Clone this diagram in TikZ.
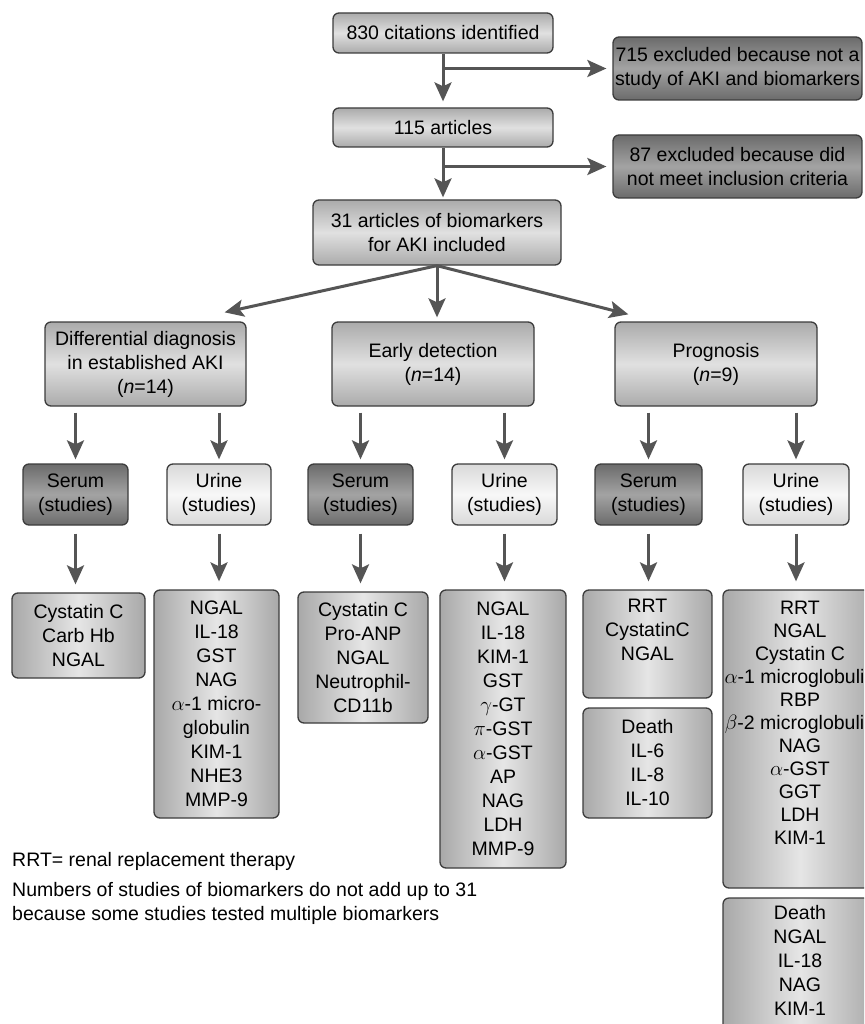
\documentclass[tikz,border=0pt]{standalone}
\usepackage{fontspec}
\setmainfont{Liberation Sans}
\usetikzlibrary{arrows.meta,positioning,calc}
\definecolor{arrowgray}{HTML}{555555}
\definecolor{edgegray}{HTML}{3C3C3C}

\begin{document}
\begin{tikzpicture}[x=1pt,y=-1pt,
	every node/.style={font=\fontsize{19.5}{24}\selectfont,align=center,inner sep=0pt},
	flow/.style={draw=edgegray,line width=1.3pt,rounded corners=6pt,
		top color=black!33,bottom color=black!33,middle color=black!12},
	dark/.style={draw=edgegray,line width=1.3pt,rounded corners=6pt,
		top color=black!58,bottom color=black!58,middle color=black!36},
	light/.style={draw=edgegray,line width=1.3pt,rounded corners=6pt,
		top color=black!15,bottom color=black!15,middle color=black!3},
	list/.style={draw=edgegray,line width=1.3pt,rounded corners=6pt,
		left color=black!34,right color=black!34,middle color=black!10},
	arr/.style={draw=arrowgray,line width=3pt,-{Stealth[length=19pt,width=17pt,inset=4pt]}}
	]
	
	% page size of the scan, right and bottom boxes run off it
	\useasboundingbox (0,0) rectangle (864,1024);
	\clip (0,0) rectangle (864,1024);
	\fill[white] (0,0) rectangle (864,1024);
	
	% selection of articles
	\node[flow,minimum width=220,minimum height=40] (c830) at (443,33) {830 citations identified};
	\node[flow,minimum width=220,minimum height=39] (a115) at (443,127.5) {115 articles};
	\node[flow,minimum width=248,minimum height=65] (a31) at (437,232.5) {31 articles of biomarkers\\for AKI included};
	\node[dark,minimum width=249,minimum height=63] (x715) at (737.5,68.5) {715 excluded because not a\\study of AKI and biomarkers};
	\node[dark,minimum width=249,minimum height=63] (x87) at (737.5,166.5) {87 excluded because did\\not meet inclusion criteria};
	
	\coordinate (b1) at (c830.south |- x715.west);
	\coordinate (b2) at (a115.south |- x87.west);
	\draw[arr,shorten >=6pt] (c830.south) -- (a115.north);
	\draw[arr,shorten >=6pt] (b1) -- (x715.west);
	\draw[arr,shorten >=2pt] (a115.south) -- (a115.south |- a31.north);
	\draw[arr,shorten >=6pt] (b2) -- (x87.west);
	
	% three questions
	\node[flow,minimum width=201,minimum height=84] (dd) at (145.5,364) {Differential diagnosis\\in established AKI\\({\itshape n}=14)};
	\node[flow,minimum width=202,minimum height=84] (ed) at (433,364) {Early detection\\({\itshape n}=14)};
	\node[flow,minimum width=202,minimum height=84] (pg) at (716,364) {Prognosis\\({\itshape n}=9)};
	
	\draw[arr] (a31.south) -- ([xshift=-22pt,yshift=9pt]dd.north east);
	\draw[arr,shorten >=4pt] (a31.south) -- (a31.south |- ed.north);
	\draw[arr] (a31.south) -- ([xshift=14pt,yshift=7pt]pg.north west);
	
	% serum / urine
	\node[dark,minimum width=105,minimum height=61] (sd) at (75.5,494.5) {Serum\\(studies)};
	\node[light,minimum width=104,minimum height=61] (ud) at (219,494.5) {Urine\\(studies)};
	\node[dark,minimum width=105,minimum height=61] (se) at (360.5,494.5) {Serum\\(studies)};
	\node[light,minimum width=105,minimum height=61] (ue) at (504.5,494.5) {Urine\\(studies)};
	\node[dark,minimum width=107,minimum height=61] (sp) at (648.5,494.5) {Serum\\(studies)};
	\node[light,minimum width=106,minimum height=61] (up) at (796,494.5) {Urine\\(studies)};
	
	\foreach \q/\t in {dd/sd,dd/ud,ed/se,ed/ue,pg/sp,pg/up}
	\draw[arr,shorten <=6pt,shorten >=4pt] (\t.north |- \q.south) -- (\t.north);
	
	% biomarkers
	\node[list,minimum width=133,minimum height=85] (ldS) at (78.5,635.5) {Cystatin C\\Carb Hb\\NGAL};
	\node[list,minimum width=125,minimum height=228] (ldU) at (216.5,704) {NGAL\\IL-18\\GST\\NAG\\$\alpha$-1 micro-\\globulin\\KIM-1\\NHE3\\MMP-9};
	\node[list,minimum width=130,minimum height=131] (leS) at (363,657.5) {Cystatin C\\Pro-ANP\\NGAL\\Neutrophil-\\CD11b};
	\node[list,minimum width=126,minimum height=278] (leU) at (503,729) {NGAL\\IL-18\\KIM-1\\GST\\$\gamma$-GT\\$\pi$-GST\\$\alpha$-GST\\AP\\NAG\\LDH\\MMP-9};
	\node[list,minimum width=129,minimum height=108] (lpS) at (647.5,644) {};
	\node[below=10pt of lpS.north] (lpSt) {RRT\\CystatinC\\NGAL};
	\node[list,minimum width=129,minimum height=110] (lpD) at (647.5,763) {Death\\IL-6\\IL-8\\IL-10};
	\node[list,minimum width=154,minimum height=298] (lpU) at (800,739) {};
	\node[below=12pt of lpU.north,font=\fontsize{19.5}{23}\selectfont] (lpUt) {RRT\\NGAL\\Cystatin C\\$\alpha$-1 microglobulin\\RBP\\$\beta$-2 microglobulin\\NAG\\$\alpha$-GST\\GGT\\LDH\\KIM-1};
	\node[list,minimum width=154,minimum height=142] (lpX) at (800,969) {};
	\node[below=8pt of lpX.north] (lpXt) {Death\\NGAL\\IL-18\\NAG\\KIM-1};
	
	\foreach \s/\t in {sd/ldS,ud/ldU,se/leS,ue/leU,sp/lpS,up/lpU}
	\draw[arr,shorten <=8pt,shorten >=8pt] (\s.south) -- (\s.south |- \t.north);
	
	% notes
	\node[anchor=base west,align=left] (fn1) at (12,866) {RRT= renal replacement therapy};
	\node[anchor=north west,align=left] (fn2) at (12,882) {Numbers of studies of biomarkers do not add up to 31\\because some studies tested multiple biomarkers};
	
\end{tikzpicture}
\end{document}
